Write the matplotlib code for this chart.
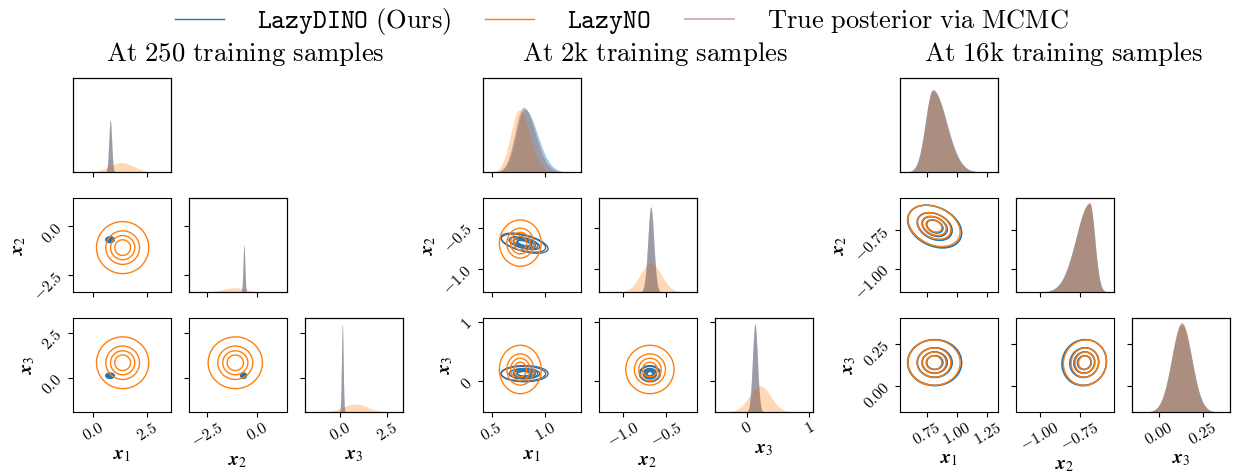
import numpy as np
import matplotlib
matplotlib.use('Agg')
import matplotlib.pyplot as plt
from matplotlib.lines import Line2D

plt.rcParams['mathtext.fontset'] = 'cm'

# ---- data -----------------------------------------------------------------
titles = ['250', '2k', '16k']
method_labels = [r'$\mathtt{LazyDINO}\ \mathrm{(Ours)}$', r'$\mathtt{LazyNO}$',
                 r'$\mathrm{True\ posterior\ via\ MCMC}$']
dim_labels = [r'$\mathbfit{x}_1$', r'$\mathbfit{x}_2$', r'$\mathbfit{x}_3$']

# plotting range of x1, x2, x3 in each corner plot
lims_250 = [(-0.92, 3.58), (-3.40, 1.47), (-1.90, 3.35)]
lims_2k = [(0.42, 1.34), (-1.285, -0.14), (-0.51, 1.06)]
lims_16k = [(0.53, 1.338), (-1.152, -0.538), (-0.153, 0.405)]

ticks_250 = [[0.0, 2.5], [-2.5, 0.0], [0.0, 2.5]]
ticks_2k = [[0.5, 1.0], [-1.0, -0.5], [0, 1]]
ticks_16k = [[0.75, 1.00, 1.25], [-1.00, -0.75], [0.00, 0.25]]
ticklabels_250 = [['0.0', '2.5'], ['-2.5', '0.0'], ['0.0', '2.5']]
ticklabels_2k = [['0.5', '1.0'], ['-1.0', '-0.5'], ['0', '1']]
ticklabels_16k = [['0.75', '1.00', '1.25'], ['-1.00', '-0.75'], ['0.00', '0.25']]

# marginal histograms, one row per coordinate: mode, spread left, spread right, peak height
dino_hist_250 = [(0.79, 0.065, 0.065, 0.55), (-0.67, 0.045, 0.045, 0.50), (0.10, 0.045, 0.045, 0.94)]
no_hist_250 = [(1.30, 0.55, 0.55, 0.10), (-1.15, 0.55, 0.55, 0.045), (0.80, 0.65, 0.65, 0.085)]
mcmc_hist_250 = [(0.79, 0.065, 0.065, 0.55), (-0.67, 0.045, 0.045, 0.50), (0.10, 0.045, 0.045, 0.94)]

dino_hist_2k = [(0.81, 0.08, 0.12, 0.67), (-0.68, 0.035, 0.035, 0.90), (0.13, 0.04, 0.04, 0.93)]
no_hist_2k = [(0.76, 0.08, 0.10, 0.66), (-0.68, 0.12, 0.12, 0.31), (0.21, 0.17, 0.17, 0.28)]
mcmc_hist_2k = [(0.80, 0.08, 0.11, 0.69), (-0.68, 0.035, 0.035, 0.91), (0.13, 0.04, 0.04, 0.94)]

dino_hist_16k = [(0.80, 0.062, 0.115, 0.87), (-0.69, 0.088, 0.032, 0.94), (0.13, 0.058, 0.058, 0.93)]
no_hist_16k = [(0.80, 0.060, 0.110, 0.86), (-0.69, 0.085, 0.030, 0.95), (0.13, 0.056, 0.056, 0.95)]
mcmc_hist_16k = [(0.80, 0.060, 0.112, 0.88), (-0.69, 0.086, 0.031, 0.95), (0.13, 0.057, 0.057, 0.95)]

# pairwise density contours: mean and spread per coordinate, correlations (x1x2, x1x3, x2x3)
dino_kde_250 = [(0.78, 0.08), (-0.69, 0.06), (0.13, 0.06)]
no_kde_250 = [(1.36, 0.49), (-1.10, 0.55), (0.85, 0.59)]
mcmc_kde_250 = [(0.79, 0.07), (-0.68, 0.05), (0.12, 0.05)]
dino_corr_250 = [0.0, 0.0, 0.0]
no_corr_250 = [0.0, 0.0, 0.0]
mcmc_corr_250 = [0.0, 0.0, 0.0]

dino_kde_2k = [(0.81, 0.09), (-0.69, 0.05), (0.13, 0.055)]
no_kde_2k = [(0.77, 0.08), (-0.69, 0.115), (0.20, 0.165)]
mcmc_kde_2k = [(0.80, 0.085), (-0.69, 0.045), (0.13, 0.05)]
dino_corr_2k = [-0.55, 0.0, 0.0]
no_corr_2k = [0.0, 0.0, 0.0]
mcmc_corr_2k = [-0.5, 0.0, 0.0]

dino_kde_16k = [(0.815, 0.091), (-0.725, 0.057), (0.14, 0.056)]
no_kde_16k = [(0.81, 0.088), (-0.72, 0.055), (0.14, 0.055)]
mcmc_kde_16k = [(0.817, 0.09), (-0.722, 0.056), (0.141, 0.055)]
dino_corr_16k = [-0.3, 0.0, 0.05]
no_corr_16k = [-0.3, 0.0, 0.05]
mcmc_corr_16k = [-0.32, 0.0, 0.05]

# contour radii in units of standard deviation
contour_radii = [2.45, 1.58, 1.135, 0.737]

colors = ['tab:blue', 'tab:orange', 'tab:brown']
hist_alpha = [0.4, 0.3, 0.38]

panels = [
    dict(lims=lims_250, ticks=ticks_250, ticklabels=ticklabels_250,
         hists=[dino_hist_250, no_hist_250, mcmc_hist_250],
         kdes=[dino_kde_250, no_kde_250, mcmc_kde_250],
         corrs=[dino_corr_250, no_corr_250, mcmc_corr_250]),
    dict(lims=lims_2k, ticks=ticks_2k, ticklabels=ticklabels_2k,
         hists=[dino_hist_2k, no_hist_2k, mcmc_hist_2k],
         kdes=[dino_kde_2k, no_kde_2k, mcmc_kde_2k],
         corrs=[dino_corr_2k, no_corr_2k, mcmc_corr_2k]),
    dict(lims=lims_16k, ticks=ticks_16k, ticklabels=ticklabels_16k,
         hists=[dino_hist_16k, no_hist_16k, mcmc_hist_16k],
         kdes=[dino_kde_16k, no_kde_16k, mcmc_kde_16k],
         corrs=[dino_corr_16k, no_corr_16k, mcmc_corr_16k]),
]

# ---- layout (pixels) ------------------------------------------------------
W, H = 1239, 472
panel_left = [73, 483, 900]
title_x = [245, 655, 1064]
col_step = 116
row_top = [78, 198, 318]
ax_w, ax_h = 98, 94

TICK_FS = 11.5
LABEL_FS = 14


def marginal(x, mode, sd_lo, sd_hi, peak):
    sd = np.where(x < mode, sd_lo, sd_hi)
    return peak * np.exp(-0.5 * ((x - mode) / sd) ** 2)


def density_grid(xlim, ylim, mx, sx, my, sy, rho, n=400):
    X, Y = np.meshgrid(np.linspace(*xlim, n), np.linspace(*ylim, n))
    u = (X - mx) / sx
    v = (Y - my) / sy
    q = (u * u - 2 * rho * u * v + v * v) / (1 - rho ** 2)
    return X, Y, np.exp(-0.5 * q)


def math_labels(labels):
    return ['$' + s + '$' for s in labels]


levels = np.sort(np.exp(-0.5 * np.array(contour_radii) ** 2))
pair_index = {(0, 1): 0, (0, 2): 1, (1, 2): 2}

fig = plt.figure(figsize=(W / 100, H / 100), dpi=100)

for p, panel in enumerate(panels):
    lims = panel['lims']
    for row in range(3):
        for col in range(row + 1):
            x0 = panel_left[p] + col * col_step
            y0 = row_top[row]
            ax = fig.add_axes([x0 / W, 1 - (y0 + ax_h) / H, ax_w / W, ax_h / H])
            ax.set_xlim(lims[col])
            ax.set_xticks(panel['ticks'][col])
            if row == 2:
                ax.set_xticklabels(math_labels(panel['ticklabels'][col]), fontsize=TICK_FS)
                ax.tick_params(axis='x', labelrotation=30, pad=2)
                ax.set_xlabel(dim_labels[col], fontsize=LABEL_FS, math_fontfamily='stix',
                              labelpad=1)
            else:
                ax.set_xticklabels([])

            if row == col:
                # diagonal: marginal histograms on a twin y axis
                if row > 0:
                    ax.set_ylim(lims[row])
                    ax.set_yticks(panel['ticks'][row])
                else:
                    ax.set_yticks([])
                ax.set_yticklabels([])
                tw = ax.twinx()
                tw.set_ylim(0, 1)
                tw.set_yticks([])
                xs = np.linspace(*lims[col], 600)
                for m in range(3):
                    mode, lo, hi, peak = panel['hists'][m][col]
                    tw.fill_between(xs, 0, marginal(xs, mode, lo, hi, peak),
                                    color=colors[m], alpha=hist_alpha[m], lw=0)
                tw.set_xlim(lims[col])
            else:
                ax.set_ylim(lims[row])
                ax.set_yticks(panel['ticks'][row])
                if col == 0:
                    ax.set_yticklabels(math_labels(panel['ticklabels'][row]), fontsize=TICK_FS)
                    ax.tick_params(axis='y', labelrotation=45, pad=2)
                    ax.set_ylabel(dim_labels[row], fontsize=LABEL_FS, math_fontfamily='stix',
                                  labelpad=2)
                else:
                    ax.set_yticklabels([])
                k = pair_index[(col, row)]
                for m in [2, 0, 1]:
                    (mx, sx) = panel['kdes'][m][col]
                    (my, sy) = panel['kdes'][m][row]
                    X, Y, Z = density_grid(lims[col], lims[row], mx, sx, my, sy,
                                           panel['corrs'][m][k])
                    ax.contour(X, Y, Z, levels=levels, colors=colors[m], linewidths=1.0)
                ax.set_xlim(lims[col])
                ax.set_ylim(lims[row])

    fig.text(title_x[p] / W, 1 - 61 / H, r'$\mathrm{At\ %s\ training\ samples}$' % titles[p],
             ha='center', va='baseline', fontsize=19.3)

handles = [Line2D([], [], color=colors[0], lw=1.0),
           Line2D([], [], color=colors[1], lw=1.0),
           Line2D([], [], color=colors[2], lw=1.2, alpha=0.5)]
fig.legend(handles, method_labels, loc='upper center', bbox_to_anchor=(0.5016, 1.038),
           ncol=3, frameon=False, fontsize=19, handlelength=1.85, handletextpad=1.25,
           columnspacing=1.3)

fig.savefig('out.png', dpi=100)
